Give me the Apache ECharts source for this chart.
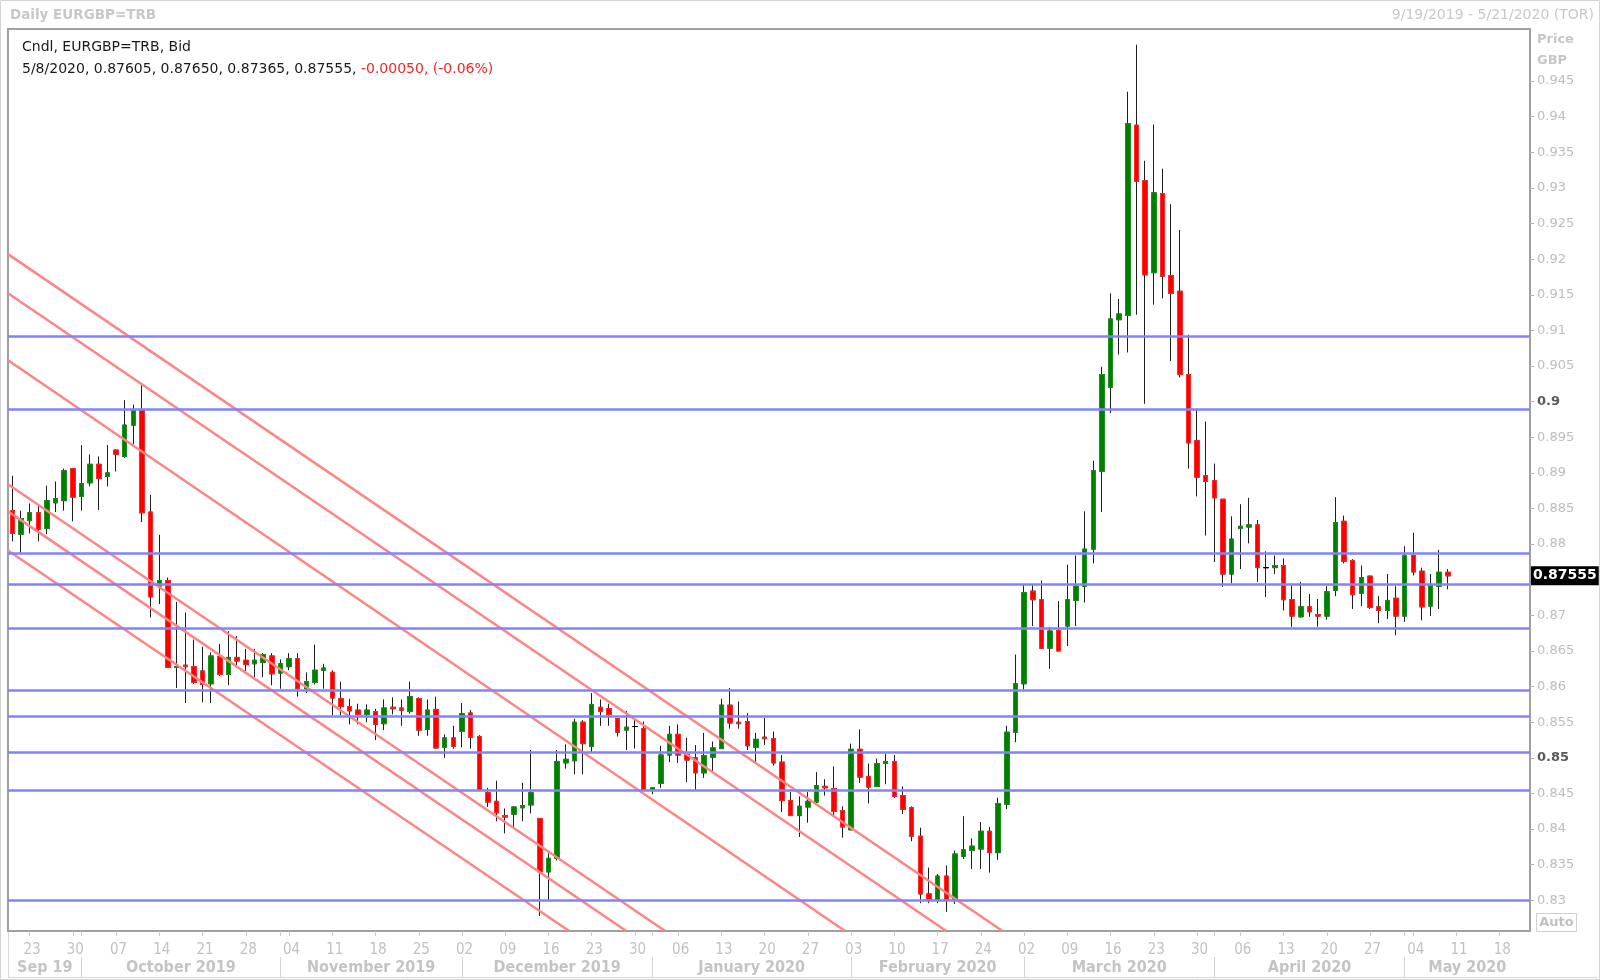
<!DOCTYPE html>
<html>
<head>
<meta charset="utf-8">
<script src="https://cdn.jsdelivr.net/npm/echarts@6/dist/echarts.min.js"></script>
<style>
html,body{margin:0;padding:0;background:#fff;}
#c{width:1600px;height:980px;}
</style>
</head>
<body>
<div id="c"></div>
<script>
// ---------------- data ----------------
const symbol = 'EURGBP=TRB';
const rangeStart = '2019-09-19';
const rangeEnd = '2020-05-21';

const openP = [
 0.8847,0.8814,0.8833,0.8844,0.8822,0.8858,0.8861,0.8906,0.8867,0.8886,
 0.8912,0.8895,0.8932,0.8923,0.8967,0.8988,0.8845,0.8741,0.8749,0.8627,
 0.8630,0.8628,0.8622,0.8604,0.8642,0.8617,0.8641,0.8637,0.8632,0.8634,
 0.8643,0.8619,0.8628,0.8639,0.8597,0.8606,0.8623,0.8620,0.8583,0.8572,
 0.8567,0.8561,0.8565,0.8548,0.8571,0.8570,0.8565,0.8583,0.8540,0.8568,
 0.8515,0.8528,0.8537,0.8563,0.8530,0.8451,0.8439,0.8419,0.8421,0.8430,
 0.8434,0.8415,0.8340,0.8359,0.8493,0.8496,0.8550,0.8516,0.8571,0.8569,
 0.8555,0.8539,0.8544,0.8541,0.8455,0.8464,0.8504,0.8533,0.8505,0.8500,
 0.8479,0.8501,0.8513,0.8574,0.8550,0.8551,0.8515,0.8529,0.8527,0.8494,
 0.8440,0.8419,0.8431,0.8438,0.8460,0.8457,0.8426,0.8399,0.8512,0.8474,
 0.8460,0.8492,0.8495,0.8447,0.8430,0.8390,0.8309,0.8301,0.8334,0.8301,
 0.8362,0.8370,0.8372,0.8397,0.8367,0.8435,0.8536,0.8604,0.8734,0.8722,
 0.8654,0.8679,0.8685,0.8721,0.8741,0.8793,0.8902,0.9020,0.9115,0.9121,
 0.9388,0.9310,0.9181,0.9292,0.9177,0.9155,0.9038,0.8945,0.8896,0.8889,
 0.8863,0.8758,0.8822,0.8824,0.8827,0.8767,0.8767,0.8770,0.8722,0.8698,
 0.8712,0.8701,0.8699,0.8735,0.8832,0.8777,0.8731,0.8755,0.8712,0.8707,
 0.8724,0.8699,0.8784,0.8762,0.8713,0.8741,0.87605
];
const closeP = [
 0.8815,0.8836,0.8844,0.8821,0.8861,0.8864,0.8903,0.8866,0.8885,0.8912,
 0.8892,0.8900,0.8926,0.8967,0.8988,0.8844,0.8726,0.8749,0.8627,0.8628,
 0.8628,0.8606,0.8603,0.8643,0.8617,0.8641,0.8636,0.8631,0.8637,0.8645,
 0.8618,0.8632,0.8639,0.8597,0.8607,0.8623,0.8626,0.8584,0.8572,0.8566,
 0.8561,0.8567,0.8547,0.8570,0.8569,0.8567,0.8586,0.8539,0.8567,0.8514,
 0.8528,0.8516,0.8562,0.8529,0.8455,0.8438,0.8423,0.8417,0.8431,0.8433,
 0.8451,0.8340,0.8359,0.8495,0.8498,0.8550,0.8520,0.8575,0.8565,0.8561,
 0.8536,0.8543,0.8544,0.8455,0.8458,0.8504,0.8533,0.8504,0.8497,0.8479,
 0.8503,0.8514,0.8574,0.8549,0.8548,0.8517,0.8526,0.8527,0.8493,0.8440,
 0.8419,0.8432,0.8439,0.8461,0.8458,0.8425,0.8403,0.8512,0.8473,0.8459,
 0.8492,0.8495,0.8446,0.8428,0.8390,0.8309,0.8301,0.8334,0.8301,0.8365,
 0.8371,0.8376,0.8397,0.8367,0.8436,0.8536,0.8604,0.8732,0.8722,0.8654,
 0.8678,0.8650,0.8722,0.8741,0.8793,0.8903,0.9038,0.9116,0.9123,0.9390,
 0.9309,0.9178,0.9293,0.9176,0.9152,0.9038,0.8942,0.8894,0.8888,0.8865,
 0.8758,0.8807,0.8825,0.8827,0.8767,0.8767,0.8770,0.8722,0.8699,0.8712,
 0.8705,0.8699,0.8733,0.8830,0.8776,0.8729,0.8753,0.8711,0.8707,0.8721,
 0.8699,0.8784,0.8761,0.8712,0.8742,0.87605,0.87555
];
const lowP = [
 0.8804,0.8788,0.8815,0.8804,0.8814,0.8845,0.8847,0.8832,0.8847,0.8881,
 0.8848,0.8881,0.8902,0.8921,0.8940,0.8831,0.8697,0.8716,0.8626,0.8598,
 0.8577,0.8604,0.8578,0.8577,0.8615,0.8602,0.8630,0.8622,0.8613,0.8613,
 0.8602,0.8597,0.8623,0.8586,0.8591,0.8603,0.8597,0.8560,0.8560,0.8547,
 0.8547,0.8550,0.8525,0.8539,0.8561,0.8545,0.8562,0.8531,0.8531,0.8513,
 0.8500,0.8513,0.8515,0.8513,0.8455,0.8431,0.8411,0.8394,0.8403,0.8411,
 0.8422,0.8278,0.8301,0.8356,0.8485,0.8477,0.8477,0.8508,0.8545,0.8545,
 0.8530,0.8511,0.8513,0.8455,0.8449,0.8458,0.8494,0.8493,0.8466,0.8455,
 0.8472,0.8479,0.8513,0.8541,0.8541,0.8511,0.8493,0.8518,0.8489,0.8424,
 0.8419,0.8389,0.8409,0.8435,0.8447,0.8418,0.8388,0.8399,0.8465,0.8436,
 0.8460,0.8463,0.8444,0.8421,0.8383,0.8296,0.8296,0.8296,0.8284,0.8295,
 0.8358,0.8344,0.8344,0.8339,0.8357,0.8428,0.8522,0.8596,0.8685,0.8653,
 0.8625,0.8650,0.8657,0.8685,0.8718,0.8773,0.8845,0.8984,0.9066,0.9069,
 0.9122,0.8997,0.9136,0.9145,0.9057,0.9034,0.8906,0.8867,0.8812,0.8775,
 0.8740,0.8745,0.8765,0.8801,0.8747,0.8726,0.8758,0.8707,0.8684,0.8697,
 0.8698,0.8684,0.8694,0.8727,0.8773,0.8709,0.8713,0.8709,0.8689,0.8695,
 0.8672,0.8691,0.8756,0.8693,0.8699,0.8709,0.87365
];
const highP = [
 0.8896,0.8847,0.8857,0.8854,0.8882,0.8888,0.8906,0.8907,0.8939,0.8926,
 0.8923,0.8939,0.8933,0.9002,0.8996,0.9023,0.8869,0.8813,0.8753,0.8719,
 0.8704,0.8666,0.8656,0.8648,0.8660,0.8678,0.8671,0.8653,0.8653,0.8647,
 0.8647,0.8638,0.8647,0.8647,0.8620,0.8659,0.8632,0.8623,0.8607,0.8583,
 0.8576,0.8575,0.8569,0.8582,0.8585,0.8582,0.8607,0.8585,0.8582,0.8586,
 0.8533,0.8545,0.8577,0.8567,0.8532,0.8458,0.8468,0.8429,0.8432,0.8465,
 0.8511,0.8415,0.8366,0.8511,0.8519,0.8555,0.8553,0.8591,0.8582,0.8576,
 0.8555,0.8566,0.8553,0.8551,0.8458,0.8517,0.8545,0.8547,0.8528,0.8518,
 0.8535,0.8523,0.8583,0.8598,0.8579,0.8563,0.8535,0.8556,0.8537,0.8504,
 0.8452,0.8446,0.8452,0.8480,0.8470,0.8488,0.8432,0.8520,0.8540,0.8492,
 0.8499,0.8506,0.8504,0.8460,0.8432,0.8402,0.8346,0.8337,0.8349,0.8370,
 0.8418,0.8387,0.8410,0.8403,0.8444,0.8545,0.8645,0.8744,0.8744,0.8749,
 0.8684,0.8720,0.8771,0.8784,0.8846,0.8917,0.9049,0.9152,0.9144,0.9435,
 0.9501,0.9338,0.9389,0.9327,0.9277,0.9241,0.9094,0.8988,0.8972,0.8913,
 0.8863,0.8839,0.8856,0.8865,0.8834,0.8790,0.8784,0.8780,0.8742,0.8747,
 0.8730,0.8723,0.8741,0.8866,0.8840,0.8779,0.8770,0.8756,0.8727,0.8758,
 0.8741,0.8797,0.8816,0.8767,0.8758,0.8792,0.87650
];

// horizontal support / resistance levels
const levels = [0.9092, 0.8990, 0.8787, 0.8743, 0.8682, 0.8595, 0.8558, 0.8508, 0.8455, 0.8300];
// descending channel lines: [startIndex, startPrice, endIndex, endPrice]
const channels = [
 [-0.5, 0.9207, 114.5, 0.8257],
 [-0.5, 0.9152, 108.0, 0.8257],
 [-0.5, 0.9058, 96.3, 0.8257],
 [-0.5, 0.8884, 75.5, 0.8257],
 [-0.5, 0.8846, 71.0, 0.8257],
 [-0.5, 0.8791, 64.4, 0.8257]
];
const yMin = 0.8257, yMax = 0.9523;
const yTicks = [0.83,0.835,0.84,0.845,0.85,0.855,0.86,0.865,0.87,0.875,0.88,0.885,0.89,0.895,
                0.9,0.905,0.91,0.915,0.92,0.925,0.93,0.935,0.94,0.945];
const boldTicks = [0.85, 0.9];
const monthLabels = ['Sep 19','October 2019','November 2019','December 2019','January 2020',
                     'February 2020','March 2020','April 2020','May 2020'];

// ---------------- derived ----------------
function weekdays(a, b) {
  const out = [];
  let t = Date.parse(a + 'T00:00:00Z');
  const e = Date.parse(b + 'T00:00:00Z');
  while (t <= e) {
    const d = new Date(t);
    const w = d.getUTCDay();
    if (w > 0 && w < 6) out.push(d.toISOString().slice(0, 10));
    t += 86400000;
  }
  return out;
}
const dates = weekdays(rangeStart, rangeEnd);
const N = dates.length;
const isMonday = v => new Date(v + 'T00:00:00Z').getUTCDay() === 1;
const monthStarts = [];
for (let i = 1; i < N; i++) if (dates[i].slice(0, 7) !== dates[i - 1].slice(0, 7)) monthStarts.push(i);
const monthStartSet = new Set(monthStarts);
const bounds = [-0.5].concat(monthStarts, [N - 0.5]);
const monthMids = [];
for (let k = 0; k < bounds.length - 1; k++) monthMids.push((bounds[k] + bounds[k + 1]) / 2);

const n = openP.length;
const wickData = openP.map((o, i) => [o, closeP[i], lowP[i], highP[i]]);
const bodyData = openP.map((o, i) => [o, closeP[i], Math.min(o, closeP[i]), Math.max(o, closeP[i])]);
const last = n - 1;
const lastClose = closeP[last];
const chg = closeP[last] - closeP[last - 1];
const pct = chg / closeP[last - 1] * 100;
const fmtDate = s => { const p = s.split('-'); return (+p[1]) + '/' + (+p[2]) + '/' + p[0]; };
const infoBlack = fmtDate(dates[last]) + ', ' + openP[last].toFixed(5) + ', ' + highP[last].toFixed(5) + ', ' +
                  lowP[last].toFixed(5) + ', ' + closeP[last].toFixed(5) + ', ';
const infoRed = (chg < 0 ? '-' : '') + Math.abs(chg).toFixed(5) + ', (' + (pct < 0 ? '-' : '') + Math.abs(pct).toFixed(2) + '%)';
const yLabelVals = yTicks.filter(v => Math.abs(v - lastClose) > 0.0025);

const AXF = '"DejaVu Sans Condensed", "Liberation Sans", sans-serif';
const TF = '"DejaVu Sans", sans-serif';

const chart = echarts.init(document.getElementById('c'), null, { width: 1600, height: 980 });

const series = [
  {
    type: 'candlestick', name: 'wick', xAxisIndex: 0, yAxisIndex: 0, data: wickData,
    barWidth: 5, silent: true, z: 2,
    itemStyle: { color: '#1e1e1e', color0: '#1e1e1e', borderColor: '#1e1e1e', borderColor0: '#1e1e1e',
                 borderColorDoji: '#1e1e1e', borderWidth: 1 },
    emphasis: { disabled: true }
  },
  {
    type: 'candlestick', name: 'body', xAxisIndex: 0, yAxisIndex: 0, data: bodyData,
    barWidth: 5, silent: true, z: 3,
    itemStyle: { color: '#008000', color0: '#ff0000', borderColor: '#1f8f1f', borderColor0: '#ff2a2a',
                 borderColorDoji: '#000000', borderWidth: 1 },
    emphasis: { disabled: true }
  }
];
channels.forEach((c, k) => {
  const s = {
    type: 'line', xAxisIndex: 1, yAxisIndex: 0, data: [[c[0], c[1]], [c[2], c[3]]],
    symbol: 'none', silent: true, clip: true, z: 4, animation: false,
    lineStyle: { color: '#ff8585', width: 2.5 }, emphasis: { disabled: true }
  };
  if (k === 0) {
    s.markLine = {
      symbol: ['none', 'none'], silent: true, animation: false, emphasis: { disabled: true },
      precision: 6,
      label: { show: false },
      lineStyle: { color: '#8282ff', width: 2.5, type: 'solid' },
      data: levels.map(v => ({ yAxis: v })).concat([{
        yAxis: lastClose,
        lineStyle: { width: 0, color: 'rgba(0,0,0,0)' },
        label: {
          show: true, position: 'end', distance: 1, formatter: lastClose.toFixed(5),
          color: '#ffffff', backgroundColor: '#000000', fontFamily: TF, fontWeight: 'bold',
          fontSize: 14, padding: [2, 2, 2, 2], lineHeight: 15
        }
      }])
    };
  }
  series.push(s);
});

const option = {
  animation: false,
  backgroundColor: '#ffffff',
  grid: { left: 8, top: 29, width: 1522, height: 902, show: true, borderColor: '#a0a0a0', borderWidth: 2,
          backgroundColor: 'transparent', containLabel: false, outerBoundsMode: 'none' },
  xAxis: [
    {
      type: 'category', data: dates, boundaryGap: true,
      axisLine: { show: false, onZero: false }, splitLine: { show: false },
      axisTick: { show: true, alignWithLabel: true, length: 5,
                  interval: (i, v) => isMonday(v) || monthStartSet.has(i),
                  lineStyle: { color: '#c8c8c8', width: 1 } },
      axisLabel: { show: true, interval: (i, v) => isMonday(v), formatter: v => v.slice(8),
                   color: '#c2c2c2', fontFamily: AXF, fontSize: 15, margin: 12, padding: [0, 0, 0, 5] }
    },
    {
      type: 'value', min: -0.5, max: N - 0.5, position: 'bottom', offset: 26,
      axisLine: { show: false, onZero: false }, splitLine: { show: false },
      axisTick: { show: true, customValues: monthStarts, length: 21, lineStyle: { color: '#d4d4d4', width: 1 } },
      axisLabel: { show: true, customValues: monthMids, margin: 3,
                   formatter: v => { let b = 0; monthMids.forEach((m, k) => { if (Math.abs(m - v) < Math.abs(monthMids[b] - v)) b = k; }); return monthLabels[b]; },
                   color: '#c4c4c4', fontFamily: AXF, fontWeight: 'bold', fontSize: 16 }
    }
  ],
  yAxis: {
    type: 'value', position: 'right', min: yMin, max: yMax,
    axisLine: { show: false, onZero: false }, splitLine: { show: false },
    axisTick: { show: true, customValues: yTicks, length: 4, lineStyle: { color: '#b0b0b0' } },
    axisLabel: {
      show: true, customValues: yLabelVals, margin: 7, color: '#bdbdbd', fontFamily: TF, fontSize: 13,
      formatter: v => { const r = +(+v).toFixed(3); const s = String(r); return boldTicks.indexOf(r) >= 0 ? '{b|' + s + '}' : s; },
      rich: { b: { fontWeight: 'bold', color: '#5a5a5a', fontFamily: TF, fontSize: 13 } }
    }
  },
  title: [
    { text: 'Cndl, ' + symbol + ', Bid', left: 22, top: 39, padding: 0,
      textStyle: { fontFamily: TF, fontSize: 14, fontWeight: 'normal', color: '#1a1a1a', lineHeight: 16 } },
    { text: '{k|' + infoBlack + '}{r|' + infoRed + '}', left: 22, top: 61, padding: 0,
      textStyle: { lineHeight: 16, fontWeight: 'normal', fontFamily: TF, fontSize: 14, rich: {
        k: { fontFamily: TF, fontSize: 14, fontWeight: 'normal', color: '#1a1a1a', lineHeight: 16 },
        r: { fontFamily: TF, fontSize: 14, fontWeight: 'normal', color: '#f02828', lineHeight: 16 } } } }
  ],
  graphic: [
    { type: 'rect', silent: true, z: -10, shape: { x: 0.5, y: 0.5, width: 1599, height: 979 },
      style: { fill: 'none', stroke: '#d4d4d4', lineWidth: 1 } },
    { type: 'polyline', silent: true, z: -10, shape: { points: [[8.5, 931], [8.5, 977.5], [1598, 977.5]] },
      style: { fill: 'none', stroke: '#d8d8d8', lineWidth: 1 } },
    { type: 'text', silent: true, x: 10, y: 15,
      style: { text: 'Daily ' + symbol, fill: '#c8c8c8', font: 'bold 13.5px "DejaVu Sans", sans-serif',
               textVerticalAlign: 'middle', verticalAlign: 'middle' } },
    { type: 'text', silent: true, x: 1594, y: 15,
      style: { text: fmtDate(rangeStart) + ' - ' + fmtDate(rangeEnd) + ' (TOR)', fill: '#c8c8c8',
               font: '14px "DejaVu Sans", sans-serif', textAlign: 'right', align: 'right',
               textVerticalAlign: 'middle', verticalAlign: 'middle' } },
    { type: 'text', silent: true, x: 1537, y: 39.5,
      style: { text: 'Price', fill: '#c6c6c6', font: 'bold 13px "DejaVu Sans", sans-serif',
               textVerticalAlign: 'middle', verticalAlign: 'middle' } },
    { type: 'text', silent: true, x: 1537, y: 60.5,
      style: { text: 'GBP', fill: '#c6c6c6', font: 'bold 13px "DejaVu Sans", sans-serif',
               textVerticalAlign: 'middle', verticalAlign: 'middle' } },
    { type: 'rect', silent: true, shape: { x: 1536.5, y: 913.5, width: 40, height: 18 },
      style: { fill: '#ffffff', stroke: '#d0d0d0', lineWidth: 1 } },
    { type: 'text', silent: true, x: 1556.5, y: 923,
      style: { text: 'Auto', fill: '#c0c0c0', font: 'bold 13px "DejaVu Sans", sans-serif',
               textAlign: 'center', align: 'center', textVerticalAlign: 'middle', verticalAlign: 'middle' } }
  ],
  series: series
};
chart.setOption(option);
</script>
</body>
</html>
